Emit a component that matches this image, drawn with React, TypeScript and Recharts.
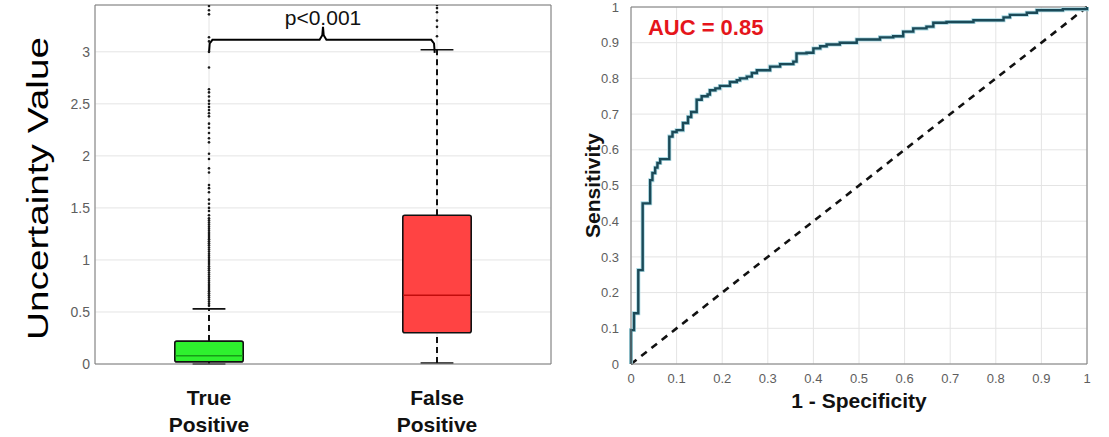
import {
  ComposedChart,
  CartesianGrid,
  Line,
  ReferenceArea,
  ReferenceDot,
  ReferenceLine,
  Scatter,
  XAxis,
  YAxis,
} from "recharts";

// ---- box plot (left panel) ----
const categories = [
  ["True", "Positive"],
  ["False", "Positive"],
];
const positions = [1, 2];
const q1 = [0.02, 0.3];
const median = [0.08, 0.66];
const q3 = [0.22, 1.43];
const whiskerLow = [0.0, 0.01];
const whiskerHigh = [0.53, 3.02];
const boxFill = ["#2ef02e", "#ff4343"];
const medianColor = ["#179c17", "#c20c0c"];

const tpOutliers = [
  0.56, 0.58, 0.6, 0.62, 0.64, 0.66, 0.68, 0.7, 0.72, 0.74, 0.76, 0.78, 0.8, 0.82, 0.84,
  0.86, 0.88, 0.9, 0.92, 0.94, 0.96, 0.98, 1.0, 1.02, 1.04, 1.06, 1.08, 1.1, 1.12, 1.14,
  1.16, 1.18, 1.2, 1.22, 1.24, 1.26, 1.28, 1.3, 1.32, 1.34, 1.36, 1.38, 1.4, 1.43, 1.47,
  1.5, 1.54, 1.58, 1.65, 1.69, 1.72, 1.84, 1.88, 1.97, 2.02, 2.13, 2.17, 2.22, 2.27, 2.31,
  2.38, 2.41, 2.44, 2.47, 2.5, 2.53, 2.57, 2.61, 2.64, 2.85, 3.0, 3.1, 3.14, 3.36, 3.4, 3.44,
];
const fpOutliers = [3.15, 3.24, 3.3, 3.38, 3.42, 3.45];

const boxTicks = [0, 0.5, 1, 1.5, 2, 2.5, 3];

// brace over the two groups
const braceX = [1.0, 1.003, 1.015, 1.485, 1.497, 1.5, 1.503, 1.515, 1.975, 1.987, 1.99];
const braceY = [2.99, 3.08, 3.115, 3.115, 3.16, 3.24, 3.16, 3.115, 3.115, 3.08, 2.99];

// ---- ROC (right panel) ----
const fpr = [
  0, 0, 0.0066, 0.016, 0.0256, 0.042, 0.047, 0.053, 0.058, 0.064, 0.084, 0.091, 0.1, 0.114,
  0.125, 0.132, 0.144, 0.155, 0.168, 0.173, 0.185, 0.195, 0.217, 0.232, 0.239, 0.254, 0.265,
  0.276, 0.305, 0.327, 0.356, 0.363, 0.385, 0.4, 0.415, 0.429, 0.458, 0.495, 0.546, 0.575,
  0.597, 0.619, 0.648, 0.663, 0.692, 0.751, 0.817, 0.831, 0.868, 0.89, 0.947, 1.0,
];
const tpr = [
  0, 0.095, 0.142, 0.263, 0.45, 0.515, 0.535, 0.55, 0.563, 0.574, 0.637, 0.65, 0.655, 0.675,
  0.692, 0.706, 0.74, 0.75, 0.755, 0.767, 0.772, 0.779, 0.79, 0.795, 0.8, 0.805, 0.815,
  0.823, 0.833, 0.84, 0.847, 0.87, 0.872, 0.884, 0.89, 0.895, 0.9, 0.909, 0.915, 0.918,
  0.931, 0.94, 0.945, 0.956, 0.958, 0.963, 0.971, 0.978, 0.984, 0.991, 0.994, 1.0,
];
const rocTicks = [0, 0.1, 0.2, 0.3, 0.4, 0.5, 0.6, 0.7, 0.8, 0.9, 1];
const aucText = "AUC = 0.85";

const FONT = '"Liberation Sans", Arial, Helvetica, sans-serif';
const AXIS = "#7a7a7a";
const GRID = "#e4e4e4";
const TICK = { fontSize: 13, fill: "#5e5e5e", fontFamily: FONT };

const rocData = fpr.map((x, i) => ({ x, y: tpr[i] }));
const diagData = [
  { x: 0, y: 0 },
  { x: 1, y: 1 },
];
const braceData = braceX.map((x, i) => ({ x, y: braceY[i] }));
const outlierData = [
  ...tpOutliers.map((y) => ({ x: positions[0], y })),
  ...fpOutliers.map((y) => ({ x: positions[1], y })),
];

function CatTick(props: any) {
  const { x, y, payload } = props;
  const idx = positions.indexOf(payload.value);
  if (idx < 0) return null;
  const [a, b] = categories[idx];
  return (
    <text x={x} y={y} textAnchor="middle" fontFamily={FONT} fontWeight="bold" fontSize={21} fill="#111">
      <tspan x={x} dy={41}>{a}</tspan>
      <tspan x={x} dy={27}>{b}</tspan>
    </text>
  );
}

function BigYLabel(props: any) {
  const vb = props.viewBox || { x: 0, y: 0, width: 0, height: 0 };
  const cx = 38;
  const cy = vb.y + vb.height / 2 + 4;
  return (
    <text
      x={cx}
      y={cy}
      transform={`rotate(-90, ${cx}, ${cy})`}
      textAnchor="middle"
      dominantBaseline="central"
      fontFamily={FONT}
      fontSize={29}
      fill="#000"
      textLength={303}
      lengthAdjust="spacingAndGlyphs"
    >
      Uncertainty Value
    </text>
  );
}

const dot = (p: any) => <circle cx={p.cx} cy={p.cy} r={1.3} fill="#1a1a1a" />;

export default function App() {
  return (
    <div
      style={{
        position: "absolute",
        left: 0,
        top: 0,
        width: 1109,
        height: 437,
        background: "#fff",
        fontFamily: FONT,
      }}
    >
      <div style={{ position: "absolute", left: 0, top: 0 }}>
        <ComposedChart width={560} height={437} margin={{ top: 5, right: 9, left: 0, bottom: 0 }}>
          <CartesianGrid stroke={GRID} strokeWidth={1} />
          <XAxis
            type="number"
            dataKey="x"
            domain={[0.5, 2.5]}
            ticks={positions}
            allowDataOverflow
            height={73}
            tickLine={false}
            tickSize={0}
            tickMargin={0}
            stroke={AXIS}
            tick={<CatTick />}
            interval={0}
          />
          <YAxis
            type="number"
            dataKey="y"
            domain={[0, 3.45]}
            ticks={boxTicks}
            allowDataOverflow
            width={95}
            tickLine={false}
            tickSize={0}
            tickMargin={5}
            stroke={AXIS}
            tick={{ ...TICK, fontSize: 14 }}
            interval={0}
            label={{ content: <BigYLabel /> }}
          />
          <ReferenceLine y={3.45} stroke={AXIS} />
          <ReferenceLine x={2.5} stroke={AXIS} />

          {positions.map((p, i) => (
            <ReferenceLine
              key={`wh${i}`}
              segment={[
                { x: p, y: q3[i] },
                { x: p, y: whiskerHigh[i] },
              ]}
              stroke="#111"
              strokeWidth={2}
              strokeDasharray="6 4"
            />
          ))}
          {positions.map((p, i) => (
            <ReferenceLine
              key={`wl${i}`}
              segment={[
                { x: p, y: whiskerLow[i] },
                { x: p, y: q1[i] },
              ]}
              stroke="#111"
              strokeWidth={2}
              strokeDasharray="6 4"
            />
          ))}
          {positions.map((p, i) => (
            <ReferenceLine
              key={`ch${i}`}
              segment={[
                { x: p - 0.072, y: whiskerHigh[i] },
                { x: p + 0.072, y: whiskerHigh[i] },
              ]}
              stroke="#111"
              strokeWidth={1.6}
            />
          ))}
          {positions.map((p, i) => (
            <ReferenceLine
              key={`cl${i}`}
              segment={[
                { x: p - 0.072, y: whiskerLow[i] },
                { x: p + 0.072, y: whiskerLow[i] },
              ]}
              stroke="#111"
              strokeWidth={1.6}
            />
          ))}
          {positions.map((p, i) => (
            <ReferenceArea
              key={`b${i}`}
              x1={p - 0.15}
              x2={p + 0.15}
              y1={q1[i]}
              y2={q3[i]}
              fill={boxFill[i]}
              fillOpacity={1}
              stroke="#111"
              strokeWidth={1.6}
              radius={2}
            />
          ))}
          {positions.map((p, i) => (
            <ReferenceLine
              key={`m${i}`}
              segment={[
                { x: p - 0.148, y: median[i] },
                { x: p + 0.148, y: median[i] },
              ]}
              stroke={medianColor[i]}
              strokeWidth={1.6}
            />
          ))}
          <Scatter data={outlierData} dataKey="y" shape={dot} isAnimationActive={false} />
          <Line
            data={braceData}
            dataKey="y"
            type="linear"
            stroke="#000"
            strokeWidth={2}
            dot={false}
            activeDot={false}
            isAnimationActive={false}
          />
          <ReferenceDot
            x={1.5}
            y={3.24}
            r={0.01}
            fill="none"
            stroke="none"
            label={{
              value: "p<0.001",
              position: "top",
              offset: 2,
              fontSize: 21,
              fill: "#111",
              fontFamily: FONT,
            }}
          />
        </ComposedChart>
      </div>

      <div style={{ position: "absolute", left: 560, top: 0 }}>
        <ComposedChart width={549} height={437} margin={{ top: 7, right: 22, left: 0, bottom: 0 }}>
          <CartesianGrid stroke={GRID} strokeWidth={1} />
          <XAxis
            type="number"
            dataKey="x"
            domain={[0, 1]}
            ticks={rocTicks}
            height={73}
            tickLine={false}
            tickSize={0}
            tickMargin={10}
            stroke={AXIS}
            tick={TICK}
            interval={0}
            label={{
              value: "1 - Specificity",
              position: "insideTop",
              offset: 29,
              fontSize: 21,
              fontWeight: "bold",
              fill: "#111",
              fontFamily: FONT,
            }}
          />
          <YAxis
            type="number"
            dataKey="y"
            domain={[0, 1]}
            ticks={rocTicks}
            width={71}
            tickLine={false}
            tickSize={0}
            tickMargin={12}
            stroke={AXIS}
            tick={TICK}
            interval={0}
            label={{
              value: "Sensitivity",
              angle: -90,
              position: "insideLeft",
              offset: 33,
              textAnchor: "middle",
              fontSize: 21,
              fontWeight: "bold",
              fill: "#111",
              fontFamily: FONT,
            }}
          />
          <ReferenceLine y={1} stroke={AXIS} />
          <ReferenceLine x={1} stroke={AXIS} />
          <Line
            data={diagData}
            dataKey="y"
            type="linear"
            stroke="#111"
            strokeWidth={2.6}
            strokeDasharray="7 6"
            dot={false}
            activeDot={false}
            isAnimationActive={false}
          />
          <Line
            data={rocData}
            dataKey="y"
            type="stepAfter"
            stroke="#a8d8e2"
            strokeWidth={4}
            dot={false}
            activeDot={false}
            isAnimationActive={false}
          />
          <Line
            data={rocData}
            dataKey="y"
            type="stepAfter"
            stroke="#1b4a58"
            strokeWidth={2.4}
            dot={false}
            activeDot={false}
            isAnimationActive={false}
          />
          <ReferenceDot
            x={0.037}
            y={0.944}
            r={0.01}
            fill="none"
            stroke="none"
            label={{
              value: aucText,
              position: "right",
              offset: 0,
              fontSize: 22,
              fontWeight: "bold",
              fill: "#e5151b",
              fontFamily: FONT,
            }}
          />
        </ComposedChart>
      </div>
    </div>
  );
}
